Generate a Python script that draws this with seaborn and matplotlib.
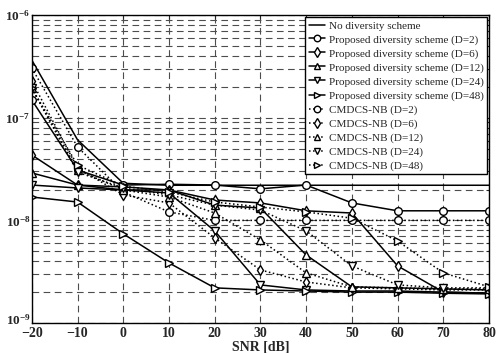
import numpy as np
import pandas as pd
import matplotlib
matplotlib.use('Agg')
import matplotlib.pyplot as plt
import matplotlib.transforms as mtransforms
import seaborn as sns
from matplotlib.ticker import LogLocator, FixedLocator, FuncFormatter

snr = [-20, -10, 0, 10, 20, 30, 40, 50, 60, 70, 80]

no_div = [3.65e-7, 6.1e-8, 2.3e-8, 2.2e-8, 2.2e-8, 2.2e-8, 2.2e-8, 2.2e-8, 2.2e-8, 2.2e-8, 2.2e-8]

prop_d2 = [1.49e-7, 3.1e-8, 2.21e-8, 2.25e-8, 2.21e-8, 2.03e-8, 2.21e-8, 1.48e-8, 1.24e-8, 1.24e-8, 1.24e-8]
prop_d6 = [4.34e-8, 2.21e-8, 1.98e-8, 1.98e-8, 1.58e-8, 1.48e-8, 1.24e-8, 1.18e-8, 3.6e-9, 2.0e-9, 1.95e-9]
prop_d12 = [2.9e-8, 2.21e-8, 2.12e-8, 1.98e-8, 1.41e-8, 1.32e-8, 4.6e-9, 2.25e-9, 2.2e-9, 2.15e-9, 2.1e-9]
prop_d24 = [2.21e-8, 2.07e-8, 1.98e-8, 1.85e-8, 7.9e-9, 2.35e-9, 2.1e-9, 2.05e-9, 2.05e-9, 2.0e-9, 1.95e-9]
prop_d48 = [1.69e-8, 1.51e-8, 7.4e-9, 3.85e-9, 2.2e-9, 2.1e-9, 2.05e-9, 2.0e-9, 2.0e-9, 1.95e-9, 1.92e-9]

cm_d2 = [3.05e-7, 5.2e-8, 1.89e-8, 1.21e-8, 1.0e-8, 1.0e-8, 1.0e-8, 1.0e-8, 1.0e-8, 1.0e-8, 1.0e-8]
cm_d6 = [2.28e-7, 3.24e-8, 1.77e-8, 1.48e-8, 6.75e-9, 3.29e-9, 2.51e-9, 2.2e-9, 2.15e-9, 2.1e-9, 2.1e-9]
cm_d12 = [1.94e-7, 3.1e-8, 1.98e-8, 1.69e-8, 1.18e-8, 6.45e-9, 3.08e-9, 2.25e-9, 2.2e-9, 2.15e-9, 2.15e-9]
cm_d24 = [1.94e-7, 2.95e-8, 2.07e-8, 1.77e-8, 1.41e-8, 1.26e-8, 7.9e-9, 3.6e-9, 2.35e-9, 2.2e-9, 2.2e-9]
cm_d48 = [1.94e-7, 3.46e-8, 2.16e-8, 1.89e-8, 1.51e-8, 1.35e-8, 1.21e-8, 1.05e-8, 6.3e-9, 3.08e-9, 2.25e-9]

series = [
    ("No diversity scheme", no_div, None, '-'),
    ("Proposed diversity scheme (D=2)", prop_d2, 'o', '-'),
    ("Proposed diversity scheme (D=6)", prop_d6, 'd', '-'),
    ("Proposed diversity scheme (D=12)", prop_d12, '^', '-'),
    ("Proposed diversity scheme (D=24)", prop_d24, 'v', '-'),
    ("Proposed diversity scheme (D=48)", prop_d48, '>', '-'),
    ("CMDCS-NB (D=2)", cm_d2, 'o', ':'),
    ("CMDCS-NB (D=6)", cm_d6, 'd', ':'),
    ("CMDCS-NB (D=12)", cm_d12, '^', ':'),
    ("CMDCS-NB (D=24)", cm_d24, 'v', ':'),
    ("CMDCS-NB (D=48)", cm_d48, '>', ':'),
]

sns.set_style("white")
plt.rcParams['font.family'] = ['Liberation Serif', 'DejaVu Serif']
plt.rcParams['mathtext.fontset'] = 'custom'
plt.rcParams['mathtext.rm'] = 'Liberation Serif'
plt.rcParams['mathtext.bf'] = 'Liberation Serif:bold'

fig = plt.figure(figsize=(4.97, 3.53), dpi=100)
ax = fig.add_axes([0.064, 0.085, 0.92, 0.872])

for name, vals, mk, ls in series:
    df = pd.DataFrame({"SNR": snr, "BER": vals})
    kw = dict(marker=mk, markersize=5.5, markerfacecolor='white', markeredgecolor='black',
              markeredgewidth=1.0) if mk else dict(marker=None)
    sns.lineplot(data=df, x="SNR", y="BER", ax=ax, color='black', linestyle=ls,
                 linewidth=1.1, label=name, **kw)

ax.set_yscale('log')
ax.set_xlim(-20, 80)
ax.set_ylim(1e-9, 1e-6)
ax.set_xticks(snr)
ax.yaxis.set_major_locator(FixedLocator([1e-9, 1e-8, 1e-7, 1e-6]))
ax.yaxis.set_minor_locator(LogLocator(base=10, subs=np.arange(2, 10)))
ax.yaxis.set_major_formatter(FuncFormatter(lambda v, p: r'$\mathbf{10^{%d}}$' % round(np.log10(v))))
ax.yaxis.set_minor_formatter(FuncFormatter(lambda v, p: ''))

grid_kw = dict(color='0.3', linestyle=(0, (6, 4)), linewidth=0.8)
ax.grid(True, which='major', axis='both', **grid_kw)
ax.grid(True, which='minor', axis='y', **grid_kw)
ax.set_axisbelow(True)

ax.tick_params(axis='both', which='both', direction='in', top=True, right=True,
               length=3, width=0.8, labelsize=10)
ax.tick_params(axis='y', which='minor', length=2)
ax.tick_params(axis='y', pad=1, labelsize=9.5)
ax.tick_params(axis='x', pad=3)
for lab in ax.get_xticklabels():
    lab.set_fontweight('bold')

# lift the lowest y label a little so it clears the -20 label
fig.canvas.draw()
ylabs = ax.get_yticklabels()
ylabs[0].set_transform(ylabs[0].get_transform() +
                       mtransforms.ScaledTranslation(0, 3 / 72, fig.dpi_scale_trans))

ax.set_xlabel('SNR [dB]', fontsize=10, fontweight='bold', labelpad=0)
ax.set_ylabel('')
for s in ax.spines.values():
    s.set_color('black')
    s.set_linewidth(1.0)

leg = ax.legend(loc='upper right', fontsize=8, frameon=True, fancybox=False,
                framealpha=1, edgecolor='black', handlelength=1.5, handletextpad=0.3,
                labelspacing=0.36, borderpad=0.3, borderaxespad=0.2, markerscale=0.85)
leg.get_frame().set_linewidth(1.0)

fig.savefig('out.png', dpi=100)
